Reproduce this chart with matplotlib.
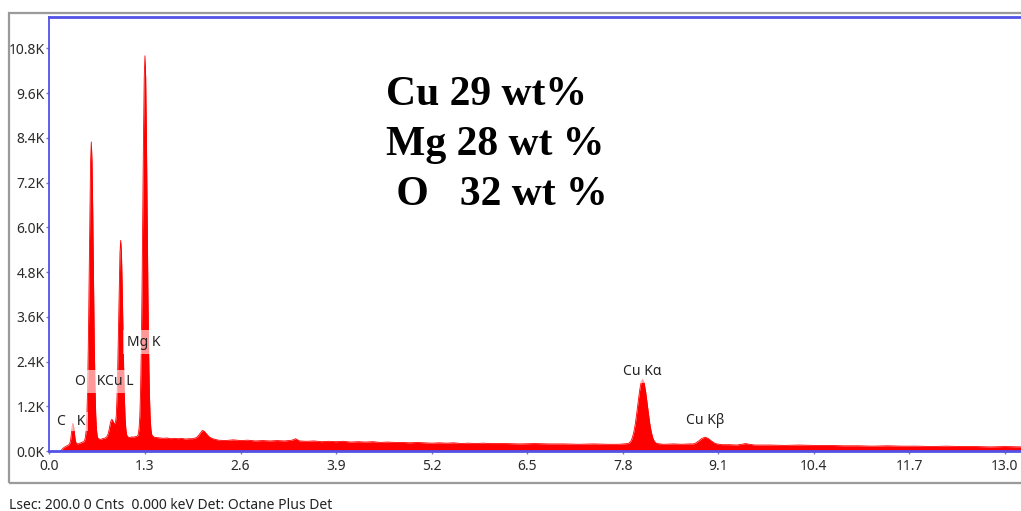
import matplotlib
matplotlib.use("Agg")
import matplotlib.pyplot as plt
from matplotlib.patches import Rectangle
from matplotlib.ticker import FuncFormatter

# ---- data (energy in keV, counts in thousands) ----
energy_kev = [
    0.15, 0.17, 0.19, 0.21, 0.23, 0.25, 0.27, 0.28, 0.29, 0.30, 0.31, 0.32, 0.33, 0.34, 0.35, 0.36, 0.37,
    0.39, 0.41, 0.43, 0.45, 0.47, 0.48, 0.49, 0.50, 0.51, 0.52, 0.53, 0.54, 0.55, 0.56, 0.57, 0.58, 0.59,
    0.60, 0.61, 0.62, 0.63, 0.64, 0.65, 0.66, 0.68, 0.70, 0.72, 0.74, 0.76, 0.78, 0.79, 0.80, 0.81, 0.82,
    0.83, 0.84, 0.85, 0.86, 0.87, 0.88, 0.89, 0.90, 0.91, 0.92, 0.93, 0.94, 0.95, 0.96, 0.97, 0.98, 0.99,
    1.00, 1.01, 1.02, 1.03, 1.04, 1.05, 1.06, 1.08, 1.10, 1.12, 1.14, 1.16, 1.18, 1.19, 1.20, 1.21, 1.22,
    1.23, 1.24, 1.25, 1.26, 1.27, 1.28, 1.29, 1.30, 1.31, 1.32, 1.33, 1.34, 1.35, 1.36, 1.37, 1.38, 1.39,
    1.40, 1.41, 1.43, 1.46, 1.50, 1.55, 1.60, 1.65, 1.70, 1.75, 1.80, 1.85, 1.90, 1.95, 2.00, 2.03, 2.06,
    2.08, 2.10, 2.12, 2.15, 2.18, 2.22, 2.26, 2.30, 2.40, 2.50, 2.60, 2.70, 2.80, 2.90, 3.00, 3.10, 3.20,
    3.30, 3.35, 3.40, 3.50, 3.60, 3.70, 3.80, 3.90, 4.00, 4.10, 4.20, 4.30, 4.40, 4.50, 4.60, 4.70, 4.80,
    4.90, 5.00, 5.10, 5.20, 5.30, 5.40, 5.50, 5.60, 5.70, 5.80, 5.90, 6.00, 6.20, 6.40, 6.60, 6.80, 7.00,
    7.20, 7.40, 7.60, 7.75, 7.87, 7.89, 7.91, 7.93, 7.95, 7.97, 7.99, 8.01, 8.03, 8.05, 8.07, 8.09, 8.11,
    8.13, 8.15, 8.17, 8.19, 8.21, 8.23, 8.25, 8.27, 8.35, 8.50, 8.60, 8.70, 8.76, 8.80, 8.84, 8.88, 8.92,
    8.96, 9.00, 9.04, 9.08, 9.15, 9.25, 9.35, 9.42, 9.47, 9.52, 9.60, 9.80, 10.00, 10.20, 10.40, 10.60,
    10.80, 11.00, 11.20, 11.40, 11.60, 11.80, 12.00, 12.20, 12.40, 12.60, 12.80, 13.00, 13.22,
]
counts_k = [
    0.00, 0.04, 0.08, 0.11, 0.13, 0.15, 0.18, 0.22, 0.31, 0.48, 0.66, 0.74, 0.66, 0.49, 0.32, 0.23, 0.20,
    0.19, 0.21, 0.22, 0.24, 0.25, 0.29, 0.37, 0.55, 0.96, 1.72, 2.95, 4.59, 6.37, 7.76, 8.29, 7.76, 6.38,
    4.61, 2.97, 1.74, 0.98, 0.59, 0.41, 0.34, 0.32, 0.31, 0.33, 0.34, 0.35, 0.38, 0.42, 0.47, 0.55, 0.65,
    0.75, 0.82, 0.85, 0.82, 0.77, 0.73, 0.74, 0.78, 0.95, 1.46, 2.27, 3.33, 4.46, 5.32, 5.65, 5.32, 4.46,
    3.33, 2.26, 1.44, 0.89, 0.59, 0.45, 0.39, 0.37, 0.36, 0.38, 0.37, 0.38, 0.39, 0.39, 0.41, 0.46, 0.61,
    0.93, 1.59, 2.69, 4.32, 6.37, 8.43, 10.01, 10.60, 10.01, 8.43, 6.37, 4.32, 2.69, 1.59, 0.93, 0.61, 0.46,
    0.41, 0.39, 0.37, 0.36, 0.35, 0.34, 0.35, 0.33, 0.34, 0.33, 0.34, 0.32, 0.33, 0.33, 0.36, 0.42, 0.50,
    0.55, 0.54, 0.50, 0.43, 0.37, 0.33, 0.31, 0.29, 0.28, 0.30, 0.28, 0.29, 0.27, 0.28, 0.27, 0.28, 0.27,
    0.29, 0.33, 0.27, 0.26, 0.27, 0.25, 0.26, 0.25, 0.26, 0.24, 0.25, 0.24, 0.25, 0.23, 0.24, 0.23, 0.23,
    0.22, 0.23, 0.22, 0.21, 0.22, 0.21, 0.22, 0.20, 0.21, 0.20, 0.21, 0.20, 0.20, 0.19, 0.20, 0.19, 0.19,
    0.18, 0.19, 0.18, 0.18, 0.20, 0.22, 0.26, 0.35, 0.50, 0.71, 1.00, 1.32, 1.62, 1.84, 1.92, 1.84, 1.62,
    1.32, 1.00, 0.71, 0.50, 0.35, 0.26, 0.22, 0.20, 0.18, 0.19, 0.18, 0.19, 0.19, 0.22, 0.28, 0.34, 0.37,
    0.34, 0.28, 0.22, 0.19, 0.17, 0.17, 0.16, 0.18, 0.20, 0.18, 0.16, 0.16, 0.15, 0.16, 0.15, 0.15,
    0.14, 0.14, 0.13, 0.14, 0.13, 0.13, 0.12, 0.13, 0.12, 0.12, 0.11, 0.12, 0.11,
]

x_ticks = [0.0, 1.3, 2.6, 3.9, 5.2, 6.5, 7.8, 9.1, 10.4, 11.7, 13.0]
y_ticks = [0.0, 1.2, 2.4, 3.6, 4.8, 6.0, 7.2, 8.4, 9.6, 10.8]

peak_labels = ["C   K", "O   K", "Cu L", "Mg K", "Cu K\u03b1", "Cu K\u03b2"]
peak_label_x = [0.30, 0.56, 0.95, 1.29, 8.07, 8.92]
peak_label_y = [0.80, 1.87, 1.87, 2.92, 2.14, 0.81]
peak_label_pad = [0.15, 0.3, 0.3, 0.3, 0.3, 0.3]

composition_lines = ["Cu 29 wt%", "Mg 28 wt %", " O   32 wt %"]
footer_text = "Lsec: 200.0 0 Cnts  0.000 keV Det: Octane Plus Det"

# ---- figure ----
W, H = 1021, 511
fig = plt.figure(figsize=(W / 100, H / 100), dpi=100)
fig.patch.set_facecolor("white")

def fx(px):
    return px / W

def fy(py):
    return 1 - py / H

# outer grey frame
fig.add_artist(Rectangle((fx(9), fy(483)), fx(1040) - fx(9), fy(13) - fy(483),
                         transform=fig.transFigure, fill=False, edgecolor="#9a9a9a", lw=1.6))

ax_left, ax_bottom, ax_top = fx(49.4), fy(451), fy(17)
ax = fig.add_axes([ax_left, ax_bottom, 1.0 - ax_left, ax_top - ax_bottom])

blue = "#5252e8"
ax.fill_between(energy_kev, counts_k, 0, color="#ff0000", lw=0, zorder=2)
ax.plot(energy_kev, counts_k, color="#ff0000", lw=0.6, zorder=2)

ax.set_xlim(0, 13.219)
ax.set_ylim(0, 11.64)
ax.set_xticks(x_ticks)
ax.set_yticks(y_ticks)
ax.xaxis.set_major_formatter(FuncFormatter(lambda v, p: f"{v:.1f}"))
ax.yaxis.set_major_formatter(FuncFormatter(lambda v, p: f"{v:.1f}K"))

for s in ["left", "bottom", "top"]:
    ax.spines[s].set_color(blue)
ax.spines["left"].set_linewidth(1.3)
ax.spines["bottom"].set_linewidth(2.0)
ax.spines["top"].set_linewidth(2.0)
ax.spines["right"].set_visible(False)

tick_font = "Noto Sans"
ax.tick_params(axis="x", direction="out", length=2.5, width=1, color="#7a7ab0",
               pad=3.5, labelsize=10, labelcolor="#2a2a2a")
ax.tick_params(axis="y", direction="out", length=2.5, width=1, color="#7a7ab0",
               pad=1, labelsize=10, labelcolor="#2a2a2a")
for lab in ax.get_xticklabels() + ax.get_yticklabels():
    lab.set_fontfamily(tick_font)

# peak labels: translucent white bands first, then the text on top
for txt, xv, yv, pd in zip(peak_labels, peak_label_x, peak_label_y, peak_label_pad):
    ax.text(xv, yv, txt, ha="center", va="center", fontsize=10, family=tick_font,
            color=(0, 0, 0, 0), zorder=4,
            bbox=dict(boxstyle=f"square,pad={pd}", facecolor="white", alpha=0.6, edgecolor="none"))
for txt, xv, yv in zip(peak_labels, peak_label_x, peak_label_y):
    ax.text(xv, yv, txt, ha="center", va="center", fontsize=10, family=tick_font,
            color="#222222", zorder=5)

# composition text
for i, line in enumerate(composition_lines):
    fig.text(fx(386), fy(105 + 50 * i), line, ha="left", va="baseline",
             fontsize=30, fontweight="bold", family="Liberation Serif", color="black")

fig.text(fx(9), fy(505), footer_text, ha="left", va="center",
         fontsize=10, family=tick_font, color="#222222")

fig.savefig("out.png", dpi=100)
